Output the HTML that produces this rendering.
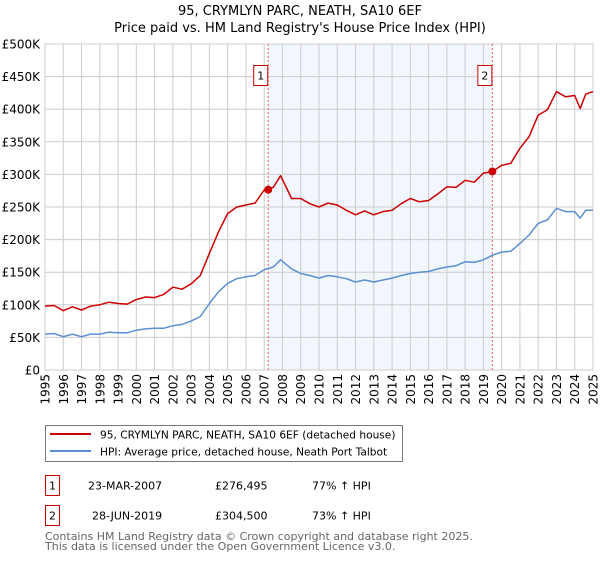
<!DOCTYPE html>
<html><head><meta charset="utf-8"><style>
body{margin:0;background:#fff;font-family:"DejaVu Sans","Liberation Sans",sans-serif;}
svg text{font-family:"DejaVu Sans","Liberation Sans",sans-serif;}
</style></head><body>
<svg id="c" width="600" height="560" xmlns="http://www.w3.org/2000/svg">
<text x="300" y="15" text-anchor="middle" font-size="13" fill="#000">95, CRYMLYN PARC, NEATH, SA10 6EF</text>
<text x="300" y="32" text-anchor="middle" font-size="13" fill="#000">Price paid vs. HM Land Registry's House Price Index (HPI)</text>
<g id="plot"></g>
<rect x="45.5" y="425.5" width="357" height="36" fill="#fff" stroke="#777"/>
<line x1="50" y1="434" x2="91" y2="434" stroke="#cc0000" stroke-width="2"/>
<text x="100" y="438.5" font-size="10.6">95, CRYMLYN PARC, NEATH, SA10 6EF (detached house)</text>
<line x1="50" y1="451" x2="91" y2="451" stroke="#5b8fd4" stroke-width="2"/>
<text x="100" y="455.5" font-size="10.6">HPI: Average price, detached house, Neath Port Talbot</text>
<rect x="45.5" y="475.5" width="14" height="20" fill="#fff" stroke="#cc0000"/>
<text x="52.5" y="489.5" font-size="11" text-anchor="middle">1</text>
<text x="88" y="489.5" font-size="11">23-MAR-2007</text>
<text x="215" y="489.5" font-size="11">£276,495</text>
<text x="312" y="489.5" font-size="11">77% ↑ HPI</text>
<rect x="45.5" y="505.5" width="14" height="20" fill="#fff" stroke="#cc0000"/>
<text x="52.5" y="519.5" font-size="11" text-anchor="middle">2</text>
<text x="92" y="519.5" font-size="11">28-JUN-2019</text>
<text x="215" y="519.5" font-size="11">£304,500</text>
<text x="312" y="519.5" font-size="11">73% ↑ HPI</text>
<text x="45" y="540" font-size="11" fill="#666">Contains HM Land Registry data © Crown copyright and database right 2025.</text>
<text x="45" y="550" font-size="11" fill="#666">This data is licensed under the Open Government Licence v3.0.</text>
</svg>
<script>
const years=[1995,1995.5,1996,1996.5,1997,1997.5,1998,1998.5,1999,1999.5,2000,2000.5,2001,2001.5,2002,2002.5,2003,2003.5,2004,2004.5,2005,2005.5,2006,2006.5,2007,2007.5,2007.9,2008.5,2009,2009.5,2010,2010.5,2011,2011.5,2012,2012.5,2013,2013.5,2014,2014.5,2015,2015.5,2016,2016.5,2017,2017.5,2018,2018.5,2019,2019.5,2020,2020.5,2021,2021.5,2022,2022.5,2023,2023.5,2024,2024.3,2024.6,2025];
const hpiValues=[55,56,51,55,51,55,55,58,57,57,61,63,64,64,68,70,75,82,102,120,133,140,143,145,154,158,169,155,148,145,141,145,143,140,135,138,135,138,141,145,148,150,151,155,158,160,166,165,169,176,181,182,194,207,225,230,248,243,243,233,245,245];
const priceValues=[98,99,91,97,92,98,100,104,102,101,108,112,111,116,127,124,132,145,179,212,240,250,253,256,276,280,298,263,263,255,250,256,253,245,238,244,238,243,245,255,263,258,260,270,281,280,291,288,302,304.5,314,317,340,358,391,399,427,419,421,401,423,427];
const yTicks=[0,50,100,150,200,250,300,350,400,450,500];
const yTickLabels=["£0","£50K","£100K","£150K","£200K","£250K","£300K","£350K","£400K","£450K","£500K"];
const xTicks=[1995,1996,1997,1998,1999,2000,2001,2002,2003,2004,2005,2006,2007,2008,2009,2010,2011,2012,2013,2014,2015,2016,2017,2018,2019,2020,2021,2022,2023,2024,2025];
const saleYears=[2007.22,2019.49];
const saleValues=[276.495,304.5];
const saleLabels=["1","2"];

const X0=45,X1=593,Y0=370,Y1=44;
const xs=y=>X0+(y-1995)/30*(X1-X0);
const ys=v=>Y0-v/500*(Y0-Y1);
const NS="http://www.w3.org/2000/svg";
const g=document.getElementById('plot');
function mk(t,a){const e=document.createElementNS(NS,t);for(const k in a)e.setAttribute(k,a[k]);g.appendChild(e);return e;}

const shade=mk('rect',{x:xs(saleYears[0]),y:Y1,width:xs(saleYears[1])-xs(saleYears[0]),height:Y0-Y1,fill:'#eef3fc',opacity:0.75});



yTicks.forEach((v,i)=>{
 const l=mk('line',{x1:X0,x2:X1,y1:ys(v),y2:ys(v),stroke:'#ccc','stroke-width':1});
 
 
 const t=mk('text',{x:40,y:ys(v)+4.5,'text-anchor':'end','font-size':12,fill:'#000'});
 t.textContent=yTickLabels[i];
 
 
});
xTicks.forEach(v=>{
 const l=mk('line',{x1:xs(v),x2:xs(v),y1:Y1,y2:Y0,stroke:'#ccc','stroke-width':1});
 
 
 const t=mk('text',{x:0,y:0,'text-anchor':'end','font-size':12,transform:`translate(${xs(v)+4.5},374) rotate(-90)`});
 t.textContent=v;
 
 
});
const fr=mk('rect',{x:X0,y:Y1,width:X1-X0,height:Y0-Y1,fill:'none',stroke:'#ccc'});



saleYears.forEach((y,i)=>{
 const l=mk('line',{x1:xs(y),x2:xs(y),y1:Y1,y2:Y0,stroke:'#f06060','stroke-dasharray':'2,2','stroke-width':1});
 
 
});
function path(vals,col,name){
 const d=years.map((y,i)=>(i?'L':'M')+xs(y).toFixed(1)+','+ys(vals[i]).toFixed(1)).join('');
 const p=mk('path',{d:d,fill:'none',stroke:col,'stroke-width':1.5,'stroke-linejoin':'round'});
 
 
}
path(hpiValues,'#5b8fd4','hpi-line');
path(priceValues,'#cc0000','property-price-line');
saleYears.forEach((y,i)=>{
 const c=mk('circle',{cx:xs(y),cy:ys(saleValues[i]),r:4,fill:'#cc0000'});
 
 
 const b=mk('rect',{x:xs(y)-14.5,y:65.5,width:14,height:20,fill:'#fff',stroke:'#cc0000'});
 
 
 const t=mk('text',{x:xs(y)-7.5,y:79.5,'text-anchor':'middle','font-size':11});
 t.textContent=saleLabels[i];
 
 
});
</script>
</body></html>
